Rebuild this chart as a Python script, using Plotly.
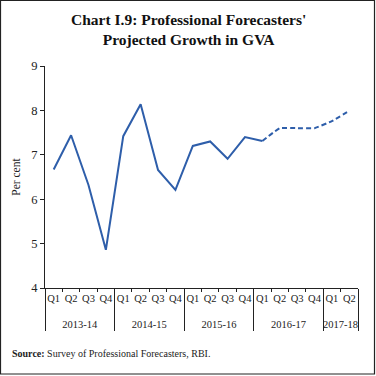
import plotly.graph_objects as go

years = ["2013-14"] * 4 + ["2014-15"] * 4 + ["2015-16"] * 4 + ["2016-17"] * 4 + ["2017-18"] * 2
quarters = ["Q1", "Q2", "Q3", "Q4"] * 4 + ["Q1", "Q2"]
growth = [6.67, 7.44, 6.32, 4.86, 7.42, 8.14, 6.66, 6.21, 7.20, 7.30, 6.91, 7.40,
          7.31, 7.60, 7.60, 7.60, 7.76, 7.99]
actual_end = 12  # index of last actual value (2016-17 Q1); projections follow

FONT = "Liberation Serif"
BLUE = "#2e5eaa"
INK = "#222"

# extra line break pushes the year row further below the quarter row
year_labels = ["<br>" + y for y in years]

fig = go.Figure()
fig.add_trace(go.Scatter(
    x=[year_labels[:actual_end + 1], quarters[:actual_end + 1]],
    y=growth[:actual_end + 1],
    mode="lines", line=dict(color=BLUE, width=2), showlegend=False,
))
fig.add_trace(go.Scatter(
    x=[year_labels[actual_end:], quarters[actual_end:]],
    y=growth[actual_end:],
    mode="lines", line=dict(color=BLUE, width=2, dash="5px,3px", shape="spline", smoothing=0.3),
    showlegend=False,
))

L, R, T, B = 45, 18, 66, 88
W = H = 376
pw = W - L - R
ph = H - T - B

def px(x):
    return (x - L) / pw

def py(y):
    return (H - B - y) / ph

fig.update_layout(
    width=W, height=H,
    margin=dict(l=L, r=R, t=T, b=B),
    paper_bgcolor="white", plot_bgcolor="white",
    font=dict(family=FONT, color=INK, size=11),
    xaxis=dict(
        type="multicategory",
        range=[-0.5, len(growth) - 0.5],
        showline=True, linecolor=INK, linewidth=1,
        ticks="outside", ticklen=3, tickcolor=INK, tickson="boundaries",
        showgrid=False, zeroline=False, tickangle=0,
        tickfont=dict(family=FONT, size=10.5, color=INK),
        showdividers=True, dividercolor=INK, dividerwidth=1,
    ),
    yaxis=dict(
        range=[4, 9], dtick=1,
        showline=True, linecolor=INK, linewidth=1,
        ticks="outside", ticklen=4, tickcolor=INK,
        showgrid=False, zeroline=False,
        tickfont=dict(family=FONT, size=12.5, color=INK),
        title=dict(text="Per cent", font=dict(family=FONT, size=11.5, color=INK), standoff=8),
    ),
    annotations=[
        dict(
            text="<b>Chart I.9: Professional Forecasters'<br>Projected Growth in GVA</b>",
            xref="paper", yref="paper", x=px(188), y=py(9),
            xanchor="center", yanchor="top", showarrow=False,
            font=dict(family=FONT, size=15.5, color="#111"),
        ),
        dict(
            text="<b>Source:</b> Survey of Professional Forecasters, RBI.",
            xref="paper", yref="paper", x=px(10), y=py(353),
            xanchor="left", yanchor="middle", showarrow=False,
            font=dict(family=FONT, size=10, color=INK),
        ),
    ],
    shapes=[dict(
        type="rect", xref="paper", yref="paper",
        x0=px(0.5), x1=px(374.5), y0=py(374), y1=py(0.5),
        line=dict(color=INK, width=1.2), fillcolor="rgba(0,0,0,0)", layer="above",
    )],
)

fig.write_html("out.html", config={"displayModeBar": False},
               post_script="document.body.style.margin='0';")
